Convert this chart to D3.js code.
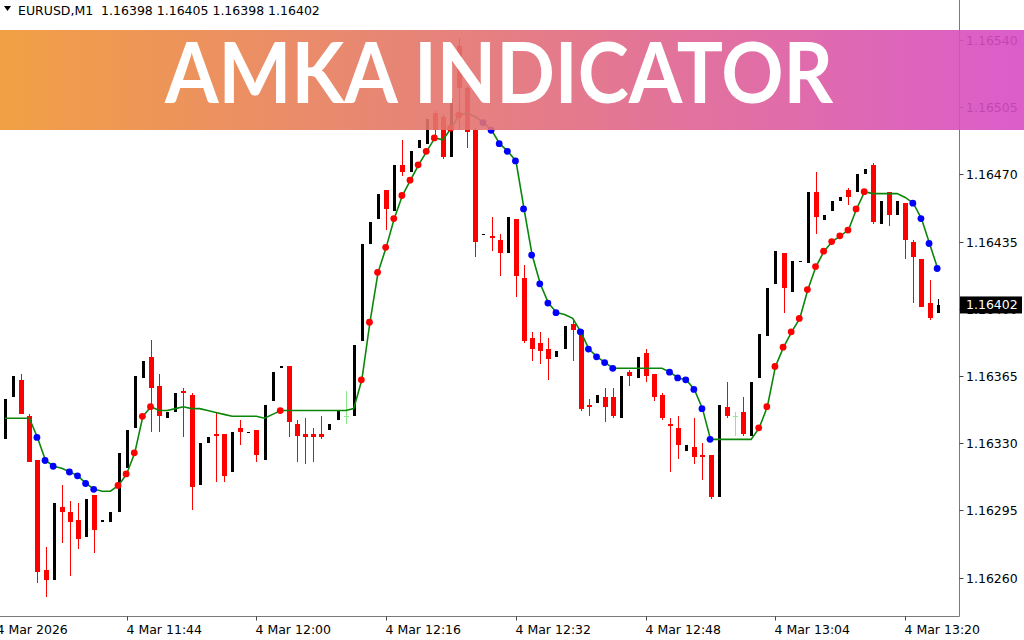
<!DOCTYPE html>
<html><head><meta charset="utf-8">
<script src="https://cdn.jsdelivr.net/npm/d3@7"></script>
<style>html,body{margin:0;padding:0;background:#fff;overflow:hidden}svg{display:block}</style>
</head><body><svg id="c" width="1024" height="640"></svg>
<script>
// ---- DATA (EURUSD M1, 4 Mar 2026, 11:29 .. 13:24) ----
const symbolTitle = "EURUSD,M1  1.16398 1.16405 1.16398 1.16402";
const bannerTitle = "AMKA INDICATOR";
const times = d3.range(116).map(i => { const m = 29 + i; return (11 + Math.floor(m / 60)) + ":" + String(m % 60).padStart(2, "0"); });
const open = [1.16332,1.16354,1.16363,1.16344,1.16321,1.16264,1.16259,1.16297,1.16294,1.16290,1.16281,1.16303,1.16290,1.16289,1.16294,1.16317,1.16338,1.16364,1.16375,1.16360,1.16343,1.16346,1.16357,1.16355,1.16308,1.16330,1.16335,1.16335,1.16315,1.16338,1.16336,1.16337,1.16321,1.16352,1.16369,1.16370,1.16340,1.16335,1.16335,1.16335,1.16337,1.16342,1.16344,1.16344,1.16383,1.16434,1.16447,1.16462,1.16451,1.16475,1.16471,1.16484,1.16486,1.16502,1.16500,1.16479,1.16537,1.16515,1.16493,1.16439,1.16438,1.16436,1.16429,1.16447,1.16416,1.16385,1.16382,1.16379,1.16375,1.16379,1.16392,1.16389,1.16350,1.16351,1.16354,1.16354,1.16343,1.16367,1.16364,1.16377,1.16366,1.16355,1.16340,1.16338,1.16326,1.16328,1.16324,1.16324,1.16302,1.16349,1.16344,1.16346,1.16334,1.16364,1.16386,1.16413,1.16429,1.16409,1.16425,1.16424,1.16461,1.16446,1.16451,1.16456,1.16462,1.16461,1.16470,1.16475,1.16444,1.16461,1.16449,1.16455,1.16435,1.16426,1.16403,1.16398];
const high = [1.16353,1.16365,1.16366,1.16345,1.16321,1.16276,1.16299,1.16308,1.16300,1.16299,1.16301,1.16303,1.16290,1.16294,1.16325,1.16337,1.16365,1.16373,1.16384,1.16366,1.16346,1.16356,1.16359,1.16356,1.16330,1.16333,1.16346,1.16335,1.16336,1.16342,1.16336,1.16337,1.16350,1.16367,1.16370,1.16370,1.16342,1.16343,1.16338,1.16344,1.16340,1.16347,1.16357,1.16381,1.16434,1.16445,1.16460,1.16462,1.16475,1.16488,1.16482,1.16488,1.16499,1.16503,1.16501,1.16537,1.16541,1.16516,1.16494,1.16439,1.16448,1.16439,1.16448,1.16447,1.16423,1.16388,1.16388,1.16385,1.16378,1.16391,1.16394,1.16389,1.16353,1.16355,1.16359,1.16359,1.16365,1.16368,1.16375,1.16379,1.16366,1.16356,1.16343,1.16344,1.16329,1.16343,1.16330,1.16324,1.16350,1.16362,1.16346,1.16354,1.16362,1.16387,1.16411,1.16430,1.16429,1.16425,1.16425,1.16461,1.16471,1.16449,1.16456,1.16458,1.16463,1.16470,1.16473,1.16476,1.16456,1.16461,1.16456,1.16455,1.16436,1.16426,1.16415,1.16405];
const low = [1.16332,1.16354,1.16345,1.16320,1.16257,1.16250,1.16259,1.16278,1.16261,1.16275,1.16281,1.16273,1.16290,1.16289,1.16294,1.16317,1.16338,1.16364,1.16336,1.16336,1.16343,1.16346,1.16333,1.16295,1.16308,1.16330,1.16310,1.16310,1.16315,1.16329,1.16336,1.16320,1.16321,1.16352,1.16369,1.16333,1.16320,1.16319,1.16320,1.16332,1.16337,1.16342,1.16340,1.16344,1.16383,1.16434,1.16447,1.16441,1.16451,1.16469,1.16471,1.16484,1.16486,1.16490,1.16478,1.16479,1.16493,1.16484,1.16427,1.16439,1.16430,1.16417,1.16429,1.16406,1.16382,1.16373,1.16371,1.16363,1.16375,1.16379,1.16373,1.16347,1.16344,1.16351,1.16341,1.16343,1.16343,1.16360,1.16364,1.16362,1.16352,1.16342,1.16315,1.16322,1.16326,1.16319,1.16311,1.16301,1.16302,1.16343,1.16334,1.16334,1.16334,1.16364,1.16386,1.16413,1.16398,1.16409,1.16425,1.16424,1.16439,1.16446,1.16451,1.16456,1.16454,1.16461,1.16470,1.16444,1.16444,1.16443,1.16449,1.16426,1.16403,1.16401,1.16394,1.16398];
const close = [1.16353,1.16365,1.16345,1.16320,1.16263,1.16259,1.16299,1.16294,1.16289,1.16280,1.16301,1.16285,1.16290,1.16294,1.16325,1.16337,1.16365,1.16373,1.16359,1.16344,1.16346,1.16356,1.16356,1.16307,1.16330,1.16333,1.16334,1.16313,1.16336,1.16336,1.16336,1.16324,1.16350,1.16367,1.16370,1.16341,1.16334,1.16333,1.16333,1.16333,1.16340,1.16347,1.16344,1.16381,1.16434,1.16445,1.16460,1.16452,1.16475,1.16471,1.16482,1.16488,1.16499,1.16493,1.16479,1.16510,1.16515,1.16492,1.16435,1.16439,1.16437,1.16429,1.16448,1.16417,1.16383,1.16379,1.16378,1.16374,1.16378,1.16391,1.16389,1.16348,1.16349,1.16355,1.16349,1.16344,1.16365,1.16365,1.16375,1.16365,1.16354,1.16343,1.16339,1.16329,1.16329,1.16323,1.16323,1.16302,1.16350,1.16344,1.16344,1.16335,1.16362,1.16387,1.16411,1.16430,1.16411,1.16425,1.16425,1.16461,1.16448,1.16449,1.16456,1.16458,1.16458,1.16470,1.16473,1.16445,1.16456,1.16449,1.16456,1.16436,1.16427,1.16401,1.16395,1.16402];
const amka = [1.16343,1.16343,1.16343,1.16343,1.16333,1.16321,1.16318,1.16317,1.16315,1.16313,1.16309,1.16306,1.16305,1.16305,1.16308,1.16314,1.16325,1.16344,1.16349,1.16347,1.16347,1.16348,1.16349,1.16348,1.16348,1.16347,1.16346,1.16345,1.16344,1.16344,1.16344,1.16344,1.16343,1.16345,1.16347,1.16347,1.16347,1.16347,1.16347,1.16347,1.16347,1.16347,1.16347,1.16348,1.16363,1.16393,1.16419,1.16432,1.16447,1.16459,1.16467,1.16475,1.16482,1.16489,1.16488,1.16494,1.16501,1.16502,1.16500,1.16497,1.16493,1.16486,1.16482,1.16477,1.16452,1.16428,1.16413,1.16403,1.16398,1.16397,1.16395,1.16388,1.16379,1.16375,1.16372,1.16369,1.16369,1.16369,1.16369,1.16369,1.16369,1.16369,1.16367,1.16364,1.16363,1.16358,1.16348,1.16332,1.16332,1.16332,1.16332,1.16332,1.16332,1.16338,1.16349,1.16370,1.16380,1.16388,1.16395,1.16410,1.16422,1.16430,1.16435,1.16438,1.16441,1.16452,1.16461,1.16460,1.16460,1.16460,1.16460,1.16458,1.16455,1.16447,1.16434,1.16421];
// 1 = rising (red dot), -1 = falling (blue dot), 0 = flat (no dot)
const signal = [0,0,0,0,-1,-1,-1,0,-1,-1,-1,-1,0,0,1,1,1,1,1,0,0,0,0,0,0,0,0,0,0,0,0,0,0,0,1,0,0,0,0,0,0,0,0,0,1,1,1,1,1,1,1,1,1,1,0,1,1,0,0,-1,-1,-1,-1,-1,-1,-1,-1,-1,-1,0,0,-1,-1,-1,-1,-1,0,0,0,0,0,0,-1,-1,-1,-1,-1,-1,0,0,0,0,0,1,1,1,1,1,1,1,1,1,1,1,1,1,1,0,0,0,0,0,-1,-1,-1,-1];
const yTicks = [1.16540,1.16505,1.16470,1.16435,1.16400,1.16365,1.16330,1.16295,1.16260];
const xTickIdx = [-1,15,31,47,63,79,95,111];
const xTickLabels = ["4 Mar 2026","4 Mar 11:44","4 Mar 12:00","4 Mar 12:16","4 Mar 12:32","4 Mar 12:48","4 Mar 13:04","4 Mar 13:20"];
const lastPrice = 1.16402;

// ---- LAYOUT ----
const W = 1024, H = 640, axisX = 959.5, axisY = 616.5;
const svg = d3.select("#c");
const x = d3.scaleLinear().domain([0, times.length - 1]).range([5, 937.65]);
const y = d3.scaleLinear().domain([1.16260, 1.16540]).range([577.6, 40]);
const FONT = "'DejaVu Sans', Verdana, sans-serif";

svg.append("rect").attr("width", W).attr("height", H).attr("fill", "#fff");
svg.append("defs").append("clipPath").attr("id", "plot")
  .append("rect").attr("x", 0).attr("y", 0).attr("width", axisX).attr("height", axisY);

const plot = svg.append("g").attr("clip-path", "url(#plot)");
const data = times.map((t, i) => ({ i, t, o: open[i], h: high[i], l: low[i], c: close[i] }));

// candles
const cg = plot.append("g").attr("shape-rendering", "crispEdges");
data.forEach(d => {
  const cx = Math.round(x(d.i));
  if (d.o === d.c && d.h !== d.l) {
    cg.append("line").attr("x1", cx + 0.5).attr("x2", cx + 0.5).attr("y1", y(d.h)).attr("y2", y(d.l)).attr("stroke", "#8ee88e").attr("stroke-width", 1);
    cg.append("line").attr("x1", cx - 2).attr("x2", cx + 3).attr("y1", Math.round(y(d.o)) + 0.5).attr("y2", Math.round(y(d.o)) + 0.5).attr("stroke", "#8ee88e").attr("stroke-width", 1);
  } else if (d.c >= d.o) {
    cg.append("line").attr("x1", cx + 0.5).attr("x2", cx + 0.5).attr("y1", y(d.h)).attr("y2", y(d.l)).attr("stroke", "#000").attr("stroke-width", 1);
    const top = y(d.c), bot = y(d.o);
    cg.append("rect").attr("x", cx - 1).attr("y", top).attr("width", 3).attr("height", Math.max(1.5, bot - top)).attr("fill", "#000");
  } else {
    cg.append("line").attr("x1", cx + 0.5).attr("x2", cx + 0.5).attr("y1", y(d.h)).attr("y2", y(d.l)).attr("stroke", "#ff0000").attr("stroke-width", 1);
    const top = y(d.o), bot = y(d.c);
    cg.append("rect").attr("x", cx - 2).attr("y", top).attr("width", 5).attr("height", Math.max(1.5, bot - top)).attr("fill", "#ff0000");
  }
});

// AMKA line
plot.append("path").datum(amka)
  .attr("d", d3.line().x((v, i) => x(i)).y(v => y(v)))
  .attr("fill", "none").attr("stroke", "#0a870a").attr("stroke-width", 1.6);
plot.append("g").selectAll("circle").data(data.filter(d => signal[d.i] !== 0)).join("circle")
  .attr("cx", d => x(d.i) - 0.5).attr("cy", d => y(amka[d.i])).attr("r", 3.4)
  .attr("fill", d => signal[d.i] > 0 ? "#ff0000" : "#0000ff");

// axes
svg.append("line").attr("x1", axisX).attr("x2", axisX).attr("y1", 0).attr("y2", axisY).attr("stroke", "#7a7a7a");
svg.append("line").attr("x1", 0).attr("x2", axisX).attr("y1", axisY).attr("y2", axisY).attr("stroke", "#7a7a7a");
const ya = svg.append("g");
yTicks.forEach(v => {
  const yy = Math.round(y(v)) + 0.5;
  ya.append("line").attr("x1", axisX).attr("x2", axisX + 4).attr("y1", yy).attr("y2", yy).attr("stroke", "#444");
  ya.append("text").attr("x", 966).attr("y", yy).attr("dy", "0.36em").attr("font-family", FONT).attr("font-size", 12.5).attr("fill", "#000").text(v.toFixed(5));
});
const xa = svg.append("g");
xTickIdx.forEach((idx, k) => {
  const xx = Math.round(x(idx)) + 0.5;
  xa.append("line").attr("x1", xx).attr("x2", xx).attr("y1", axisY).attr("y2", axisY + 4).attr("stroke", "#444");
  xa.append("text").attr("x", xx - 1).attr("y", 634).attr("font-family", FONT).attr("font-size", 12.5).attr("fill", "#000").text(xTickLabels[k]);
});
// last price label
const ly = y(lastPrice);
svg.append("rect").attr("x", 960).attr("y", ly - 8.5).attr("width", 62).attr("height", 17).attr("fill", "#000");
svg.append("text").attr("x", 966).attr("y", ly).attr("dy", "0.36em").attr("font-family", FONT).attr("font-size", 12.5).attr("fill", "#fff").text(lastPrice.toFixed(5));

// header
svg.append("path").attr("d", "M4,6 L11,6 L7.5,11 Z").attr("fill", "#000");
svg.append("text").attr("x", 18).attr("y", 15).attr("font-family", FONT).attr("font-size", 12.5).attr("fill", "#000").style("white-space", "pre").text(symbolTitle);

// banner
const grad = svg.select("defs").append("linearGradient").attr("id", "bg").attr("x1", "0%").attr("x2", "100%");
grad.append("stop").attr("offset", "0%").attr("stop-color", "#f09530");
grad.append("stop").attr("offset", "45%").attr("stop-color", "#e3736f");
grad.append("stop").attr("offset", "100%").attr("stop-color", "#d84bc5");
svg.append("rect").attr("x", 0).attr("y", 30).attr("width", W).attr("height", 100).attr("fill", "url(#bg)").attr("opacity", 0.9);
svg.append("text").attr("x", 499).attr("y", 103).attr("text-anchor", "middle")
  .attr("font-family", "Lato, 'Open Sans', sans-serif").attr("font-weight", 700).attr("font-size", 84)
  .attr("textLength", 668).attr("lengthAdjust", "spacingAndGlyphs").attr("fill", "#fff").text(bannerTitle);
</script></body></html>
